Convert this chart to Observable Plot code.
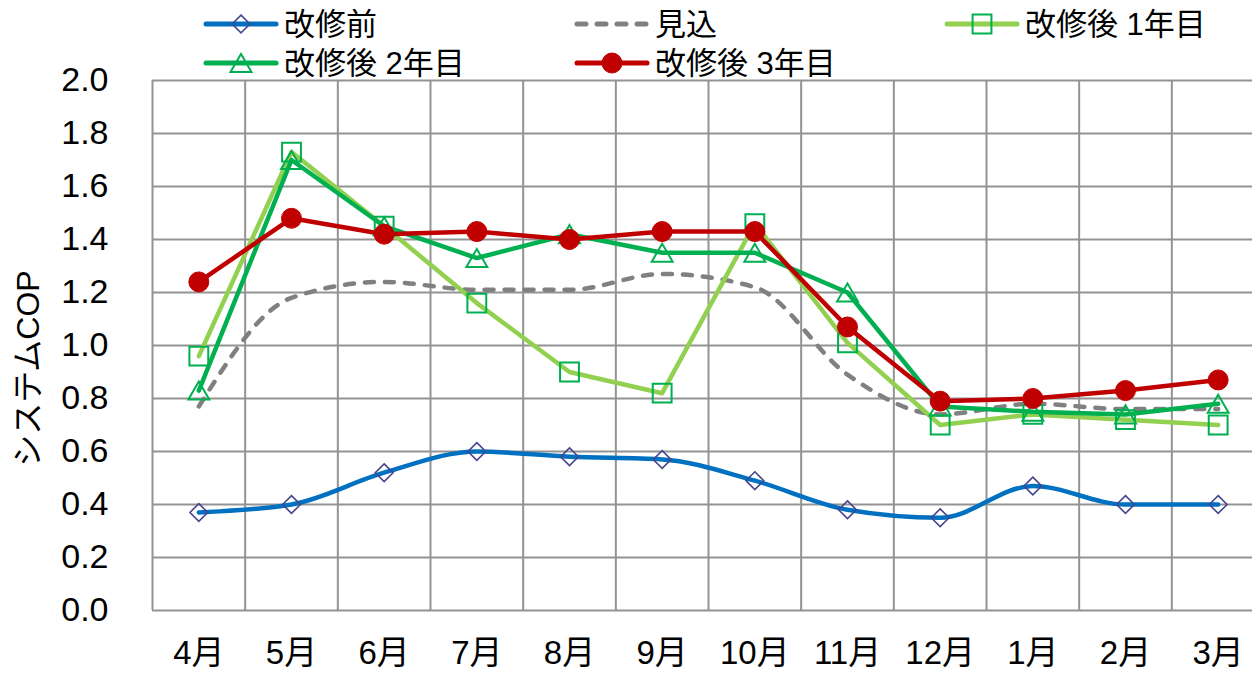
<!DOCTYPE html>
<html lang="ja">
<head>
<meta charset="utf-8">
<script src="https://cdn.jsdelivr.net/npm/d3@7"></script>
<script src="https://cdn.jsdelivr.net/npm/@observablehq/plot@0.6"></script>
<style>
  html, body { margin: 0; padding: 0; background: #fff; overflow: hidden; }
  #chart { position: relative; width: 1252px; height: 673px; }
  #chart > svg { display: block; }
  #legend { position: absolute; left: 0; top: 0; z-index: 2; pointer-events: none; }
</style>
</head>
<body>
<div id="chart"></div>
<script>
// Monthly system COP, April through March
const months = ["4月", "5月", "6月", "7月", "8月", "9月", "10月", "11月", "12月", "1月", "2月", "3月"];

const before   = [0.37, 0.40, 0.52, 0.60, 0.58, 0.57, 0.49, 0.38, 0.35, 0.47, 0.40, 0.40];
const forecast = [0.77, 1.18, 1.24, 1.21, 1.21, 1.27, 1.22, 0.89, 0.74, 0.78, 0.76, 0.76];
const year1    = [0.96, 1.73, 1.45, 1.16, 0.90, 0.82, 1.46, 1.01, 0.70, 0.74, 0.72, 0.70];
const year2    = [0.83, 1.70, 1.45, 1.33, 1.42, 1.35, 1.35, 1.20, 0.77, 0.75, 0.74, 0.78];
const year3    = [1.24, 1.48, 1.42, 1.43, 1.40, 1.43, 1.43, 1.07, 0.79, 0.80, 0.83, 0.87];

const seriesNames = ["改修前", "見込", "改修後 1年目", "改修後 2年目", "改修後 3年目"];
const seriesValues = [before, forecast, year1, year2, year3];

const yTicks = d3.range(0, 11).map(k => k / 5);

// Drawing style per series
const styles = {
  "改修前":       {stroke: "#0070C0", curve: "monotone-x", symbol: "diamond2", r: 8,  mstroke: "#46468F", mfill: "none", mwidth: 1.6, dy: 0},
  "見込":         {stroke: "#808080", curve: "monotone-x", dash: "9,11", symbol: null},
  "改修後 1年目": {stroke: "#92D050", curve: "linear", symbol: "square2",   r: 12, mstroke: "#00B050", mfill: "none", mwidth: 2, dy: 0},
  "改修後 2年目": {stroke: "#00B050", curve: "linear", symbol: "triangle2", r: 10, mstroke: "#00B050", mfill: "none", mwidth: 2, dy: 3},
  "改修後 3年目": {stroke: "#C00000", curve: "linear", symbol: "circle",    r: 10, mstroke: "#C00000", mfill: "#C00000", mwidth: 1, dy: 0}
};

const FONT = "'Liberation Sans', Arial, 'Noto Sans CJK JP', sans-serif";
const grid = "#939393";

// ---- legend (two rows above the plot area) ----
const legendItems = [
  {name: "改修前",       x0: 206, row: 0},
  {name: "見込",         x0: 577, row: 0},
  {name: "改修後 1年目", x0: 947, row: 0},
  {name: "改修後 2年目", x0: 206, row: 1},
  {name: "改修後 3年目", x0: 577, row: 1}
];
const rowY = [24, 63];
const symbolTypes = {diamond2: d3.symbolDiamond2, square2: d3.symbolSquare2, triangle2: d3.symbolTriangle2, circle: d3.symbolCircle};

const legend = d3.create("svg")
  .attr("id", "legend")
  .attr("width", 1252)
  .attr("height", 80)
  .style("font-family", FONT);

for (const it of legendItems) {
  const s = styles[it.name];
  const y = rowY[it.row];
  const g = legend.append("g");
  g.append("line")
    .attr("x1", it.x0).attr("x2", it.x0 + 70)
    .attr("y1", y).attr("y2", y)
    .attr("stroke", s.stroke)
    .attr("stroke-width", 5)
    .attr("stroke-linecap", "round")
    .attr("stroke-dasharray", s.dash || null);
  if (s.symbol) {
    g.append("path")
      .attr("d", d3.symbol(symbolTypes[s.symbol], Math.PI * s.r * s.r)())
      .attr("transform", `translate(${it.x0 + 35},${y + s.dy})`)
      .attr("fill", s.mfill)
      .attr("stroke", s.mstroke)
      .attr("stroke-width", s.mwidth);
  }
  g.append("text")
    .attr("x", it.x0 + 78)
    .attr("y", y)
    .attr("dy", "0.36em")
    .attr("font-size", 31)
    .attr("fill", "#000")
    .text(it.name);
}

// ---- plot ----
const rows = [];
seriesNames.forEach((name, k) => {
  seriesValues[k].forEach((v, i) => rows.push({series: name, x: i + 0.5, v}));
});

const seriesMarks = seriesNames.flatMap(name => {
  const s = styles[name];
  const data = rows.filter(d => d.series === name);
  const marks = [
    Plot.line(data, {
      x: "x", y: "v",
      stroke: s.stroke, strokeWidth: 4.5,
      curve: s.curve,
      strokeDasharray: s.dash,
      strokeLinecap: "round", strokeLinejoin: "round"
    })
  ];
  if (s.symbol) {
    marks.push(Plot.dot(data, {
      x: "x", y: "v",
      symbol: s.symbol, r: s.r, dy: s.dy,
      fill: s.mfill, stroke: s.mstroke, strokeWidth: s.mwidth
    }));
  }
  return marks;
});

const chart = Plot.plot({
  width: 1252,
  height: 673,
  marginTop: 80,
  marginLeft: 152,
  marginRight: 0,
  marginBottom: 63,
  style: {fontFamily: FONT, fontSize: "34px", color: "#000", background: "#fff", overflow: "hidden"},
  x: {type: "linear", domain: [0, 12], range: [152, 1264]},
  y: {domain: [0, 2]},
  marks: [
    Plot.ruleY(yTicks, {stroke: grid, strokeWidth: 2}),
    Plot.ruleX(d3.range(0, 13), {stroke: grid, strokeWidth: 2}),
    Plot.axisY({ticks: yTicks, tickFormat: d => d.toFixed(1), tickSize: 0, tickPadding: 44, label: null, fontSize: 34}),
    Plot.axisX({ticks: months.map((m, i) => i + 0.5), tickFormat: d => months[Math.floor(d)], tickSize: 0, tickPadding: 30, label: null, fontSize: 33}),
    Plot.text(["システムCOP"], {frameAnchor: "left", textAnchor: "middle", rotate: -90, dx: -124, dy: 23, fontSize: 32, fill: "#000"}),
    ...seriesMarks
  ]
});

const root = document.getElementById("chart");
root.appendChild(chart);
root.appendChild(legend.node());
</script>
</body>
</html>
